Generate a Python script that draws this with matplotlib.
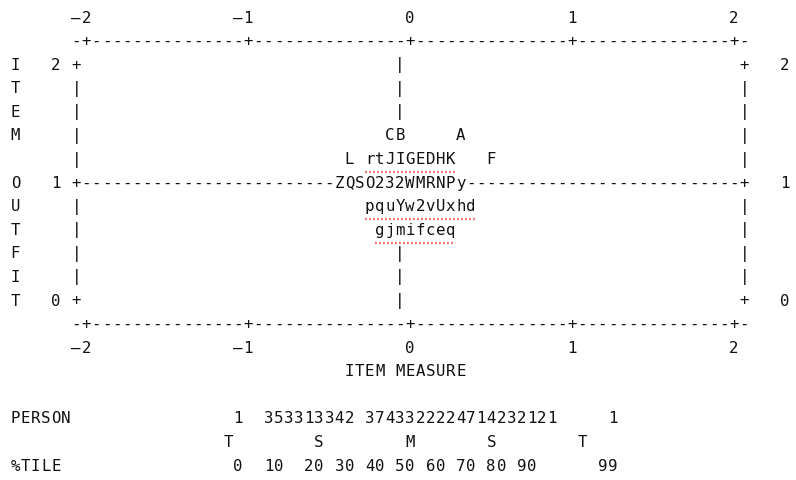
import matplotlib
matplotlib.use("Agg")
import matplotlib.pyplot as plt

# ---------------- data ----------------
measure_ticks = [-2, -1, 0, 1, 2]
outfit_ticks = [2, 1, 0]
y_axis_title = "ITEM OUTFIT"
x_axis_title = "ITEM MEASURE"

# item labels (letters/digits as printed) with the measure of their first
# character and their outfit value
item_labels = ["CB", "A", "L", "rtJIGEDHK", "F", "ZQSO232WMRNPy", "pquYw2vUxhd", "gjmifceq"]
item_measure = [-0.125, 0.3125, -0.375, -0.25, 0.5, -0.4375, -0.25, -0.1875]
item_outfit = [1.4, 1.4, 1.2, 1.2, 1.2, 1.0, 0.8, 0.6]
spell_marked = ["rtJIGEDHK", "pquYw2vUxhd", "gjmifceq"]

# person distribution line
person_counts = ["1", "353313342", "3743322224714232121", "1"]
person_count_measure = [-1.0625, -0.875, -0.25, 1.25]
person_markers = ["T", "S", "M", "S", "T"]
person_marker_measure = [-1.125, -0.5625, 0.0, 0.5, 1.0625]
percentiles = ["0", "10", "20", "30", "40", "50", "60", "70", "80", "90", "99"]
percentile_measure = [-1.0625, -0.875, -0.625, -0.4375, -0.25, -0.0625, 0.125, 0.3125, 0.5, 0.6875, 1.1875]

# ---------------- layout (character grid) ----------------
COLS_PER_UNIT = 16
ROWS_PER_UNIT = 5
COL0 = 39          # column of measure 0
PX_COL = 10.12     # px per column
X0 = 15.5          # px center of column 0
PX_ROW = 23.58
Y0 = 65.2          # px center of row 0 (outfit 2)
W, H = 796, 480

def mcol(m):
    return int(round(COL0 + COLS_PER_UNIT * m))

def orow(o):
    return int(round((max(outfit_ticks) - o) * ROWS_PER_UNIT))

fig = plt.figure(figsize=(W / 100, H / 100), dpi=100)
ax = fig.add_axes([0, 0, 1, 1])
ax.set_xlim(-X0 / PX_COL, (W - X0) / PX_COL)
ax.set_ylim((H - Y0) / PX_ROW, -Y0 / PX_ROW)
ax.axis("off")
fig.patch.set_facecolor("white")

FONT = dict(family="DejaVu Sans Mono", fontsize=11.3, color="#111111")

def put(col, row, s):
    for i, ch in enumerate(s):
        if ch != " ":
            ax.text(col + i, row, ch, ha="center", va="center", **FONT)

left = mcol(min(measure_ticks)) - 1
right = mcol(max(measure_ticks)) + 1
center = mcol(0) - 1
nrows = orow(min(outfit_ticks))

# occupancy of plot rows
occupied = {}
for lab, m, o in zip(item_labels, item_measure, item_outfit):
    c, r = mcol(m), orow(o)
    for i in range(len(lab)):
        occupied[(c + i, r)] = True

def axis_line(row):
    s = ""
    for c in range(left, right + 1):
        if c in [mcol(t) for t in measure_ticks]:
            s += "+"
        else:
            s += "-"
    put(left, row, s)

def tick_labels(row):
    for t in measure_ticks:
        lab = str(t).replace("-", "\u2013") if t < 0 else str(t)
        put(mcol(t) - len(lab) + 1, row, lab)

tick_labels(-2)
axis_line(-1)
tick_labels(nrows + 2)
axis_line(nrows + 1)

title_rows = list(y_axis_title)
for r in range(nrows + 1):
    if r < len(title_rows):
        put(0, r, title_rows[r])
    is_tick = any(orow(t) == r for t in outfit_ticks)
    put(left, r, "+" if is_tick else "|")
    put(right, r, "+" if is_tick else "|")
    if is_tick:
        val = [t for t in outfit_ticks if orow(t) == r][0]
        put(left - 2, r, str(val))
        put(right + 4, r, str(val))
    if is_tick and r not in (0, nrows):
        for c in range(left + 1, right):
            if (c, r) not in occupied:
                put(c, r, "-")
    elif (center, r) not in occupied:
        put(center, r, "|")

for lab, m, o in zip(item_labels, item_measure, item_outfit):
    c, r = mcol(m), orow(o)
    put(c, r, lab)
    if lab in spell_marked:
        ax.plot([c - 0.45, c + len(lab) - 0.55], [r + 0.52, r + 0.52],
                color="#f06a6a", lw=1.6, linestyle=(0, (0.8, 1.0)),
                solid_capstyle="butt", dash_capstyle="butt")

put(mcol(0) - 6, nrows + 3, x_axis_title)

prow = nrows + 5
put(0, prow, "PERSON")
for s, m in zip(person_counts, person_count_measure):
    put(mcol(m), prow, s)
for s, m in zip(person_markers, person_marker_measure):
    put(mcol(m), prow + 1, s)
put(0, prow + 2, "%TILE")
for s, m in zip(percentiles, percentile_measure):
    put(mcol(m), prow + 2, s)

fig.savefig("out.png", dpi=100, facecolor="white")
